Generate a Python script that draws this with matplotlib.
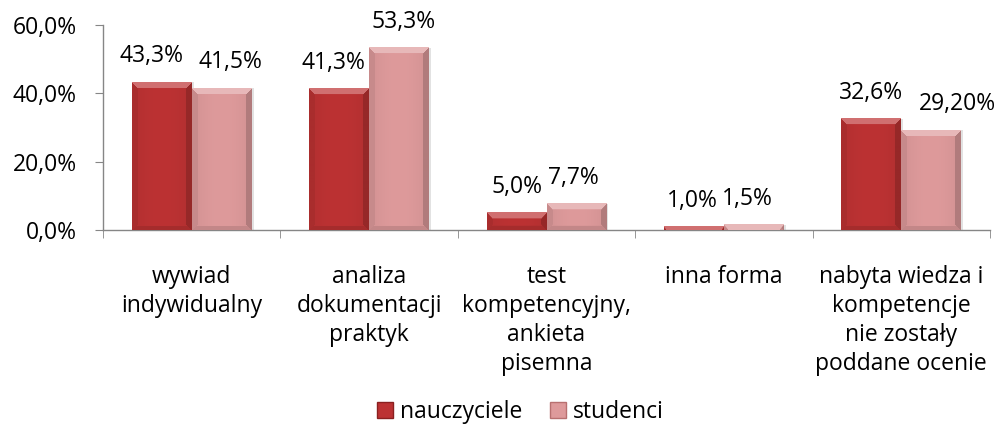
import numpy as np
import matplotlib
matplotlib.use("Agg")
import matplotlib.pyplot as plt
from matplotlib.patches import Patch
from matplotlib.colors import to_rgb

categories = ["wywiad\nindywidualny", "analiza\ndokumentacji\npraktyk",
              "test\nkompetencyjny,\nankieta\npisemna", "inna forma",
              "nabyta wiedza i\nkompetencje\nnie zostały\npoddane ocenie"]
series_names = ["nauczyciele", "studenci"]
nauczyciele = [43.3, 41.3, 5.0, 1.0, 32.6]
studenci = [41.5, 53.3, 7.7, 1.5, 29.2]
labels_n = ["43,3%", "41,3%", "5,0%", "1,0%", "32,6%"]
labels_s = ["41,5%", "53,3%", "7,7%", "1,5%", "29,20%"]
yticks = [0, 20, 40, 60]
ytick_labels = ["0,0%", "20,0%", "40,0%", "60,0%"]

colors = ["#BC3233", "#DE9A9B"]

plt.rcParams['font.family'] = ['Open Sans', 'DejaVu Sans']

W, H = 1002, 428
fig = plt.figure(figsize=(W / 100, H / 100), dpi=100)
ax = fig.add_axes([103 / W, 1 - 230 / H, (990 - 103) / W, 205 / H])

x = np.arange(len(categories))
bw = 0.338
bars_n = ax.bar(x - bw / 2, nauczyciele, bw, color=colors[0], zorder=2)
bars_s = ax.bar(x + bw / 2, studenci, bw, color=colors[1], zorder=2)

ax.set_xlim(-0.5, len(categories) - 0.5)
ax.set_ylim(0, 60)

px_x = (990 - 103) / len(categories)
px_y = 205 / 60.0


def bevel(patch, base):
    x0, y0 = patch.get_xy()
    w, h = patch.get_width(), patch.get_height()
    nx = max(int(round(w * px_x)), 2)
    ny = max(int(round(h * px_y)), 2)
    b = np.array(to_rgb(base))
    j = np.arange(nx)[None, :]
    i = np.arange(ny)[:, None]  # 0 = bottom (origin lower)
    dl = j + 0.5
    dr = nx - j - 0.5
    dt = ny - i - 0.5
    db = i + 0.5
    bev = 6.0
    t = np.abs((j + 0.5) / nx - 0.5) * 2
    shade = 1.0 - 0.06 * t ** 2
    col = b[None, None, :] * shade[..., None]
    col = np.broadcast_to(col, (ny, nx, 3)).copy()
    top = (dt < bev) & (dt <= dl) & (dt <= dr)
    left = (dl < bev) & (dl < dt) & (dl <= db)
    right = (dr < bev) & (dr < dt) & (dr <= db)
    bottom = (db < 4) & (db < dl) & (db < dr) & ~top
    col[top] = b + (1 - b) * 0.3
    col[left] = b * 0.9
    col[right] = b * 0.8
    col[bottom] = b * 0.88
    img = np.clip(col, 0, 1)
    ax.imshow(img, extent=(x0, x0 + w, y0, y0 + h), origin='lower',
              aspect='auto', interpolation='bilinear', zorder=3)
    ax.add_patch(plt.Rectangle((x0 + w, y0), 2 / px_x, h, color='#cfcfcf',
                               alpha=0.6, zorder=1, lw=0))


for p in bars_n:
    bevel(p, colors[0])
for p in bars_s:
    bevel(p, colors[1])

ax.set_xlim(-0.5, len(categories) - 0.5)
ax.set_ylim(0, 60)

fs = 16.5
dx_n = [-7, -4, 0, -1, 0]
dx_s = [6, 3, -2, -5, 19]
for p, lab, dx in zip(bars_n, labels_n, dx_n):
    ax.annotate(lab, (p.get_x() + p.get_width() / 2, p.get_height()),
                xytext=(dx, 10), textcoords='offset points', ha='center',
                va='bottom', fontsize=fs, color='black', zorder=5)
for p, lab, dx in zip(bars_s, labels_s, dx_s):
    ax.annotate(lab, (p.get_x() + p.get_width() / 2, p.get_height()),
                xytext=(dx, 10), textcoords='offset points', ha='center',
                va='bottom', fontsize=fs, color='black', zorder=5)

for s in ['top', 'right']:
    ax.spines[s].set_visible(False)
for s in ['left', 'bottom']:
    ax.spines[s].set_color('#868686')
    ax.spines[s].set_linewidth(1.0)

ax.set_yticks(yticks)
ax.set_yticklabels(ytick_labels, fontsize=fs)
ax.tick_params(axis='y', length=6, color='#868686', pad=13)

ax.set_xticks(x)
ax.set_xticklabels(categories, fontsize=fs, linespacing=1.28)
ax.tick_params(axis='x', which='major', length=0, pad=25)
ax.set_xticks(np.arange(-0.5, len(categories)), minor=True)
ax.tick_params(axis='x', which='minor', length=6, color='#868686')

handles = [Patch(facecolor=colors[0], edgecolor='#8a2020', label=series_names[0]),
           Patch(facecolor=colors[1], edgecolor='#b87070', label=series_names[1])]
fig.legend(handles=handles, loc='center', bbox_to_anchor=(520 / W, 1 - 412 / H),
           ncol=2, frameon=False, fontsize=fs, handlelength=0.7,
           handleheight=0.7, handletextpad=0.3, columnspacing=1.2)

fig.savefig("out.png", dpi=100)
